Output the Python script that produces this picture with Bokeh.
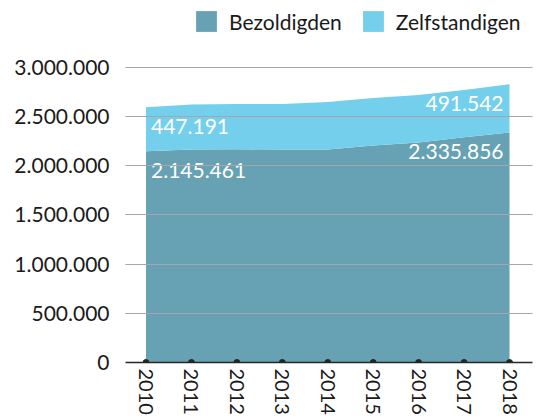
from bokeh.plotting import figure
from bokeh.models import ColumnDataSource, FixedTicker, CustomJSTickFormatter, Range1d
from bokeh.core.properties import value
from bokeh.embed import file_html
from bokeh.resources import INLINE

# Werkende bevolking per statuut, 2010-2018
years = [2010, 2011, 2012, 2013, 2014, 2015, 2016, 2017, 2018]
bezoldigden = [2145461, 2165000, 2166000, 2164000, 2163000, 2205000, 2235000, 2288000, 2335856]
zelfstandigen = [447191, 456000, 459000, 462000, 484000, 482000, 483000, 480000, 491542]
y_ticks = [0, 500000, 1000000, 1500000, 2000000, 2500000, 3000000]

DARK = "#67a1b4"
LIGHT = "#73cfeb"
FONT = "Lato"


def fmt(v):
    return f"{v:,}".replace(",", ".")


totals = [b + z for b, z in zip(bezoldigden, zelfstandigen)]
source = ColumnDataSource(dict(year=years, bez=bezoldigden, zelf=zelfstandigen))

p = figure(width=540, height=419, output_backend="svg", toolbar_location=None,
           x_range=Range1d(2009.549, 2018.506), y_range=Range1d(0, 3677600),
           min_border_left=125, min_border_right=8, min_border_top=0,
           min_border_bottom=57)
p.outline_line_color = None
p.background_fill_color = "white"

p.varea_stack(["bez", "zelf"], x="year", source=source, color=[DARK, LIGHT],
              legend_label=["Bezoldigden", "Zelfstandigen"])

# value labels at the first and last year
first, last = 0, len(years) - 1
label_style = dict(text_font=value(FONT), text_font_size="21px", text_color="white",
                   text_baseline="middle", y_offset=19)
p.text(x=[years[first]], y=[totals[first]], text=[fmt(zelfstandigen[first])],
       text_align="left", x_offset=5, **label_style)
p.text(x=[years[first]], y=[bezoldigden[first]], text=[fmt(bezoldigden[first])],
       text_align="left", x_offset=5, **label_style)
p.text(x=[years[last]], y=[totals[last]], text=[fmt(zelfstandigen[last])],
       text_align="right", x_offset=-6, **label_style)
p.text(x=[years[last]], y=[bezoldigden[last]], text=[fmt(bezoldigden[last])],
       text_align="right", x_offset=-6, **label_style)

# markers on the category axis
p.scatter(x=years, y=[0] * len(years), size=6, color="#262626")

# axes
p.xaxis.ticker = FixedTicker(ticks=years)
p.xaxis.major_label_orientation = "vertical"
p.xaxis.major_label_text_font = FONT
p.xaxis.major_label_text_font_size = "20px"
p.xaxis.major_label_text_color = "#1a1a1a"
p.xaxis.major_label_standoff = 6
p.xaxis.axis_line_color = "#262626"
p.xaxis.axis_line_width = 1.5
p.xaxis.major_tick_line_color = None
p.xaxis.minor_tick_line_color = None
p.xaxis.major_tick_out = 0
p.xaxis.major_tick_in = 0
p.xaxis.minor_tick_out = 0

p.yaxis.ticker = FixedTicker(ticks=y_ticks)
p.yaxis.formatter = CustomJSTickFormatter(
    code="return Math.round(tick).toString().replace(/\\B(?=(\\d{3})+(?!\\d))/g, '.');")
p.yaxis.major_label_text_font = FONT
p.yaxis.major_label_text_font_size = "21px"
p.yaxis.major_label_text_color = "#1a1a1a"
p.yaxis.major_label_standoff = 16
p.yaxis.axis_line_color = None
p.yaxis.major_tick_line_color = None
p.yaxis.minor_tick_line_color = None
p.yaxis.major_tick_out = 0
p.yaxis.major_tick_in = 0
p.yaxis.minor_tick_out = 0

p.xgrid.grid_line_color = None
p.ygrid.ticker = FixedTicker(ticks=y_ticks[1:])
p.ygrid.grid_line_color = "#a6a6a6"
p.ygrid.grid_line_width = 1
p.ygrid.level = "annotation"

# legend in the top strip
lg = p.legend[0]
lg.location = (68, 328)
lg.orientation = "horizontal"
lg.glyph_width = 26
lg.glyph_height = 26
lg.label_height = 26
lg.label_standoff = 10
lg.spacing = 18
lg.padding = 0
lg.margin = 0
lg.label_text_font = FONT
lg.label_text_font_size = "21px"
lg.label_text_color = "#1a1a1a"
lg.background_fill_alpha = 0
lg.border_line_color = None

open("out.html", "w").write(file_html(p, INLINE))
